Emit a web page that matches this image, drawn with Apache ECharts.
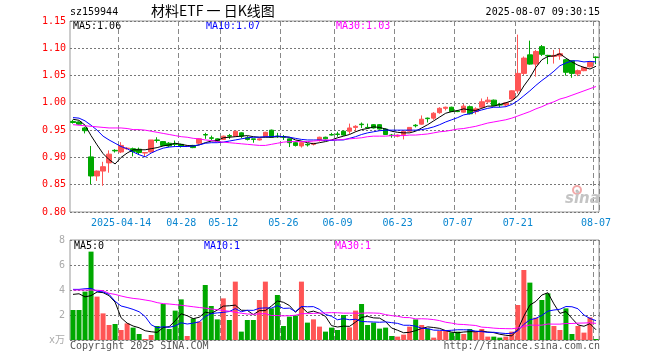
<!DOCTYPE html>
<html>
<head>
<meta charset="utf-8">
<script src="https://cdn.jsdelivr.net/npm/echarts@6/dist/echarts.min.js"></script>
<style>html,body{margin:0;padding:0;background:#fff;}#c{width:660px;height:360px;}</style>
</head>
<body>
<div id="c"></div>
<script>
// ---- Data ----
const dates = ['04-01','04-02','04-03','04-07','04-08','04-09','04-10','04-11','04-14','04-15','04-16','04-17','04-18','04-21','04-22','04-23','04-24','04-25','04-28','04-29','04-30',
'05-06','05-07','05-08','05-09','05-12','05-13','05-14','05-15','05-16','05-19','05-20','05-21','05-22','05-23','05-26','05-27','05-28','05-29','05-30',
'06-03','06-04','06-05','06-06','06-09','06-10','06-11','06-12','06-13','06-16','06-17','06-18','06-19','06-20','06-23','06-24','06-25','06-26','06-27','06-30',
'07-01','07-02','07-03','07-04','07-07','07-08','07-09','07-10','07-11','07-14','07-15','07-16','07-17','07-18','07-21','07-22','07-23','07-24','07-25','07-28','07-29','07-30','07-31',
'08-01','08-04','08-05','08-06','08-07'];

const opens = [0.966,0.965,0.954,0.901,0.866,0.875,0.890,0.913,0.910,0.916,0.916,0.915,0.908,0.910,0.932,0.929,0.926,0.925,0.924,0.920,0.922,
0.926,0.942,0.936,0.934,0.933,0.940,0.939,0.945,0.936,0.934,0.932,0.938,0.950,0.939,0.938,0.934,0.927,0.921,0.924,
0.924,0.931,0.937,0.942,0.943,0.948,0.948,0.955,0.961,0.955,0.960,0.960,0.952,0.941,0.939,0.942,0.948,0.959,0.961,0.972,
0.972,0.982,0.990,0.992,0.985,0.983,0.993,0.984,0.992,1.002,1.005,0.997,0.996,1.007,1.022,1.054,1.088,1.071,1.103,1.087,1.085,1.086,1.079,
1.077,1.053,1.059,1.066,1.084];
const highs = [0.969,0.966,0.956,0.921,0.876,0.892,0.913,0.915,0.928,0.919,0.918,0.918,0.909,0.932,0.937,0.930,0.928,0.931,0.925,0.922,0.923,
0.935,0.945,0.940,0.935,0.940,0.943,0.948,0.946,0.939,0.934,0.935,0.947,0.951,0.945,0.941,0.935,0.929,0.928,0.926,
0.926,0.938,0.938,0.945,0.947,0.949,0.962,0.959,0.964,0.962,0.961,0.961,0.953,0.943,0.942,0.949,0.955,0.961,0.977,0.973,
0.983,0.992,0.993,0.993,0.987,0.998,0.995,0.992,1.008,1.011,1.006,1.000,1.001,1.023,1.125,1.085,1.114,1.097,1.106,1.088,1.097,1.099,1.080,
1.078,1.061,1.066,1.075,1.085];
const lows = [0.962,0.960,0.944,0.851,0.857,0.848,0.872,0.909,0.908,0.914,0.902,0.905,0.901,0.909,0.927,0.921,0.919,0.920,0.918,0.919,0.917,
0.924,0.934,0.932,0.928,0.932,0.934,0.938,0.935,0.931,0.927,0.931,0.937,0.936,0.936,0.932,0.919,0.920,0.918,0.920,
0.922,0.929,0.933,0.940,0.938,0.940,0.943,0.947,0.954,0.953,0.953,0.951,0.941,0.936,0.937,0.933,0.946,0.955,0.960,0.964,
0.969,0.980,0.986,0.984,0.983,0.982,0.979,0.979,0.990,1.000,0.994,0.992,0.993,1.005,1.017,1.051,1.070,1.048,1.086,1.071,1.072,1.079,1.050,
1.046,1.049,1.058,1.065,1.071];
const closes = [0.964,0.961,0.949,0.866,0.875,0.883,0.906,0.912,0.922,0.917,0.911,0.909,0.909,0.932,0.931,0.922,0.921,0.924,0.920,0.921,0.918,
0.934,0.941,0.935,0.929,0.939,0.939,0.948,0.939,0.933,0.933,0.934,0.946,0.937,0.938,0.937,0.927,0.922,0.927,0.923,
0.926,0.937,0.934,0.941,0.942,0.941,0.954,0.957,0.960,0.954,0.954,0.952,0.942,0.940,0.941,0.948,0.955,0.958,0.970,0.971,
0.981,0.990,0.992,0.984,0.984,0.994,0.980,0.989,1.002,1.005,0.995,0.996,1.000,1.022,1.054,1.082,1.071,1.094,1.089,1.086,1.087,1.090,1.056,
1.054,1.059,1.065,1.074,1.083];

const ma5 = [0.970,0.968,0.959,0.940,0.923,0.907,0.896,0.888,0.900,0.908,0.914,0.914,0.914,0.916,0.918,0.921,0.923,0.926,0.924,0.922,0.921,
0.923,0.927,0.930,0.931,0.936,0.937,0.938,0.939,0.940,0.938,0.937,0.937,0.937,0.938,0.938,0.937,0.932,0.930,0.927,
0.925,0.927,0.929,0.932,0.936,0.939,0.942,0.947,0.951,0.953,0.956,0.955,0.952,0.948,0.946,0.945,0.945,0.948,0.954,0.960,
0.967,0.974,0.981,0.984,0.986,0.989,0.987,0.986,0.990,0.994,0.994,0.997,1.000,1.004,1.013,1.031,1.046,1.065,1.079,1.085,1.086,1.090,1.082,
1.075,1.069,1.065,1.062,1.067];
const ma10 = [0.973,0.972,0.967,0.959,0.950,0.939,0.932,0.926,0.920,0.916,0.910,0.905,0.901,0.908,0.913,0.917,0.919,0.920,0.920,0.920,0.921,
0.923,0.926,0.927,0.927,0.928,0.930,0.932,0.934,0.936,0.937,0.937,0.938,0.938,0.939,0.938,0.937,0.935,0.933,0.932,
0.932,0.932,0.931,0.931,0.932,0.932,0.935,0.938,0.942,0.945,0.947,0.949,0.950,0.950,0.950,0.950,0.950,0.950,0.951,0.953,
0.956,0.960,0.965,0.969,0.973,0.978,0.980,0.984,0.987,0.990,0.992,0.992,0.993,0.997,1.004,1.013,1.022,1.032,1.041,1.049,1.058,1.068,1.073,
1.077,1.077,1.075,1.076,1.075];
const ma30 = [0.960,0.959,0.958,0.957,0.956,0.955,0.954,0.954,0.954,0.953,0.951,0.951,0.950,0.948,0.946,0.944,0.942,0.940,0.938,0.937,0.935,
0.934,0.932,0.931,0.929,0.928,0.927,0.926,0.925,0.924,0.923,0.922,0.922,0.924,0.926,0.928,0.929,0.929,0.929,0.929,
0.930,0.931,0.932,0.932,0.932,0.933,0.934,0.935,0.936,0.938,0.939,0.939,0.939,0.940,0.940,0.940,0.941,0.941,0.942,0.943,
0.945,0.947,0.948,0.950,0.952,0.953,0.955,0.957,0.960,0.963,0.965,0.967,0.969,0.972,0.976,0.980,0.984,0.989,0.993,0.998,1.002,1.007,1.010,
1.014,1.018,1.022,1.026,1.030];

const volumes = [2.40,2.40,3.87,7.07,3.47,2.13,1.20,1.28,0.80,1.33,0.99,0.48,0.08,0.40,1.12,2.88,0.88,2.35,3.25,0.32,1.73,
1.47,4.40,2.72,1.65,3.33,1.60,4.67,0.67,1.60,1.60,3.20,4.67,2.53,3.60,1.12,1.87,1.97,4.67,1.39,
1.65,1.07,0.67,0.99,0.80,2.00,1.01,2.35,2.88,1.20,1.39,0.91,0.99,0.32,0.27,0.43,1.07,1.65,1.20,0.91,
0.19,0.72,0.72,0.61,0.67,0.48,0.88,0.67,0.88,0.27,0.27,0.19,0.27,0.67,2.80,5.60,4.59,1.79,3.20,3.73,1.12,0.80,2.53,
0.48,1.12,0.59,1.81,0.08];
const volMa5 = [3.65,3.70,3.45,3.55,3.84,3.79,3.55,3.03,1.78,1.35,1.12,0.98,0.74,0.66,0.61,0.99,1.07,1.53,2.10,1.94,1.71,
1.82,2.23,2.13,2.39,2.71,2.74,2.79,2.38,2.37,2.03,2.35,2.35,2.72,3.12,3.02,2.76,2.22,2.65,2.20,
2.31,2.15,1.89,1.15,1.04,1.11,1.09,1.43,1.81,1.89,1.77,1.75,1.47,0.96,0.78,0.58,0.62,0.75,0.92,1.05,
1.00,0.93,0.75,0.63,0.58,0.64,0.67,0.66,0.72,0.64,0.59,0.46,0.38,0.33,0.84,1.91,2.79,3.09,3.60,3.78,2.89,2.13,2.28,
1.73,1.21,1.10,1.31,0.82];
const volMa10 = [4.05,4.05,4.10,4.13,3.90,3.85,3.65,3.10,2.72,2.60,2.45,2.26,1.88,1.22,0.98,1.06,1.02,1.13,1.38,1.28,1.35,
1.45,1.88,2.11,2.17,2.21,2.28,2.51,2.26,2.38,2.37,2.54,2.57,2.55,2.75,2.53,2.55,2.28,2.68,2.66,
2.67,2.45,2.05,1.90,1.62,1.71,1.62,1.66,1.48,1.46,1.44,1.42,1.45,1.39,1.33,1.18,1.18,1.11,0.94,0.91,
0.79,0.78,0.75,0.78,0.82,0.82,0.80,0.71,0.67,0.61,0.62,0.56,0.52,0.53,0.74,1.25,1.62,1.73,1.97,2.31,2.40,2.46,2.68,
2.66,2.50,2.00,1.72,1.55];
const volMa30 = [4.00,4.00,4.00,4.00,3.98,3.95,3.73,3.65,3.52,3.41,3.33,3.28,3.20,3.12,2.99,2.91,2.88,2.83,2.78,2.72,2.66,
2.60,2.55,2.48,2.42,2.36,2.30,2.22,2.14,2.08,2.06,2.09,2.11,1.96,1.96,1.93,1.95,1.98,2.11,2.11,
2.13,2.15,2.17,2.19,2.18,2.15,2.15,2.15,2.14,2.17,2.16,2.14,2.03,1.95,1.90,1.80,1.79,1.69,1.70,1.68,
1.63,1.55,1.42,1.35,1.26,1.24,1.20,1.16,1.03,1.00,0.95,0.92,0.91,0.90,0.96,1.08,1.20,1.18,1.19,1.28,1.27,1.27,1.32,
1.32,1.35,1.36,1.38,1.33];

const tickIndex = [8,18,25,35,44,54,64,74,87];
const tickText = ['2025-04-14','04-28','05-12','05-26','06-09','06-23','07-07','07-21','08-07'];
const priceLabels = ['MA5:1.06','MA10:1.07','MA30:1.03'];
const volLabels = ['MA5:0','MA10:1','MA30:1'];

// ---- Build ----
const UP = '#ff5555', DOWN = '#00a800';
const MONO = 'DejaVu Sans Mono';
const kData = dates.map((d,i)=>[opens[i],closes[i],lows[i],highs[i]]);
const volData = volumes.map((v,i)=>({value:v,itemStyle:{color: closes[i]>=opens[i]?UP:DOWN}}));
const isTick = (i)=>tickIndex.indexOf(i)>=0;

const chart = echarts.init(document.getElementById('c'), null, {renderer:'canvas'});
const lineS = (name,data,color,xi,yi)=>({type:'line',name,data,xAxisIndex:xi,yAxisIndex:yi,showSymbol:false,symbol:'none',
  lineStyle:{color,width:1},itemStyle:{color},silent:true,animation:false,z:3});
const vSplit = {show:true,interval:(i)=>isTick(i),lineStyle:{color:'#888',type:[5,3],width:1,opacity:1}};
const hSplit = {show:true,lineStyle:{color:'#777',type:[2,2],width:1,opacity:1}};

chart.setOption({
  animation:false,
  backgroundColor:'#fff',
  grid:[
    {left:70,top:21,width:529,height:191,show:true,borderColor:'#999',borderWidth:1},
    {left:70,top:240,width:529,height:100,show:true,borderColor:'#999',borderWidth:1}
  ],
  xAxis:[
    {type:'category',gridIndex:0,data:dates,boundaryGap:true,
      axisLine:{show:false},axisTick:{show:false},splitLine:vSplit,
      axisLabel:{show:true,interval:(i)=>isTick(i),formatter:(v,i)=>tickText[tickIndex.indexOf(i)],
        color:'#0a86d0',fontFamily:MONO,fontSize:10,margin:6}},
    {type:'category',gridIndex:1,data:dates,boundaryGap:true,
      axisLine:{show:false},axisTick:{show:false},axisLabel:{show:false},splitLine:vSplit}
  ],
  yAxis:[
    {type:'value',gridIndex:0,min:0.80,max:1.15,interval:0.05,
      axisLine:{show:false},axisTick:{show:false},splitLine:hSplit,
      axisLabel:{color:'#ff0000',fontFamily:MONO,fontSize:10,margin:4,formatter:(v)=>v.toFixed(2)}},
    {type:'value',gridIndex:1,min:0,max:8,interval:2,
      axisLine:{show:false},axisTick:{show:false},splitLine:hSplit,
      axisLabel:{color:'#aaa',fontFamily:MONO+', Noto Sans CJK SC',fontSize:10,margin:5,formatter:(v)=>v===0?'x万':String(v)}}
  ],
  series:[
    {type:'candlestick',name:'K',data:kData,xAxisIndex:0,yAxisIndex:0,barWidth:5,z:2,
      itemStyle:{color:UP,color0:DOWN,borderColor:UP,borderColor0:DOWN,borderWidth:1}},
    lineS('MA5',ma5,'#000000',0,0),
    lineS('MA10',ma10,'#0000ff',0,0),
    lineS('MA30',ma30,'#ff00ff',0,0),
    {type:'bar',name:'VOL',data:volData,xAxisIndex:1,yAxisIndex:1,barWidth:5,z:2},
    lineS('VMA5',volMa5,'#000000',1,1),
    lineS('VMA10',volMa10,'#0000ff',1,1),
    lineS('VMA30',volMa30,'#ff00ff',1,1)
  ],
  graphic:[
    {type:'text',left:70,top:7,style:{text:'sz159944',fill:'#000',font:'10px '+MONO}},
    {type:'text',left:151,top:4,style:{text:'材料ETF 一 日K线图',fill:'#000',font:'14px "Noto Sans CJK SC"'}},
    {type:'text',right:60,top:7,style:{text:'2025-08-07 09:30:15',fill:'#000',font:'10px '+MONO}},
    {type:'text',left:73,top:21,style:{text:priceLabels[0],fill:'#000',font:'10px '+MONO}},
    {type:'text',left:206,top:21,style:{text:priceLabels[1],fill:'#0000ff',font:'10px '+MONO}},
    {type:'text',left:336,top:21,style:{text:priceLabels[2],fill:'#ff00ff',font:'10px '+MONO}},
    {type:'text',left:74,top:241,style:{text:volLabels[0],fill:'#000',font:'10px '+MONO}},
    {type:'text',left:204,top:241,style:{text:volLabels[1],fill:'#0000ff',font:'10px '+MONO}},
    {type:'text',left:335,top:241,style:{text:volLabels[2],fill:'#ff00ff',font:'10px '+MONO}},
    {type:'text',left:70,top:341,style:{text:'Copyright 2025 SINA.COM',fill:'#555',font:'10px '+MONO}},
    {type:'text',right:60,top:341,style:{text:'http://finance.sina.com.cn',fill:'#555',font:'10px '+MONO}},
    {type:'circle',shape:{cx:577,cy:190,r:4},style:{fill:'none',stroke:'#f2a8a8',lineWidth:2},z:1},
    {type:'circle',shape:{cx:577,cy:191,r:1.5},style:{fill:'#bbb'},z:1},
    {type:'text',left:565,top:192,style:{text:'sina',fill:'#c4c4c4',font:'italic bold 15px "DejaVu Sans"'},z:1}
  ]
});
</script>
</body>
</html>
